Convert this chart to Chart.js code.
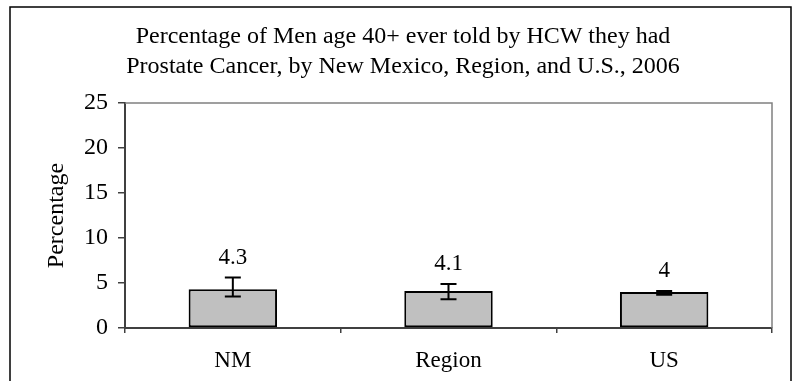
<!DOCTYPE html>
<html lang="en">
<head>
    <meta charset="UTF-8">
    <title>Prostate Cancer, Men 40+, 2006</title>
    <script src="https://cdn.jsdelivr.net/npm/chart.js"></script>
    <style>
        body { margin: 0; padding: 0; background: #ffffff; }
        #wrap { width: 796px; height: 381px; }
    </style>
</head>
<body>
    <div id="wrap"><canvas id="prostateChart"></canvas></div>

    <script>
        // Datos: porcentaje e intervalos de confianza
        const categories = ['NM', 'Region', 'US'];
        const percentages = [4.3, 4.1, 4];
        const ciLow = [3.5, 3.2, 3.7];
        const ciHigh = [5.6, 4.9, 4.1];
        const yTicks = [0, 5, 10, 15, 20, 25];

        const fontFamily = '"Liberation Serif", "Times New Roman", serif';

        // Marco exterior y borde gris del área de trazado
        const framePlugin = {
            id: 'frame',
            beforeDraw(chart) {
                const ctx = chart.ctx;
                ctx.save();
                ctx.fillStyle = '#ffffff';
                ctx.fillRect(0, 0, chart.width, chart.height);
                ctx.strokeStyle = '#000000';
                ctx.lineWidth = 1.5;
                ctx.strokeRect(10, 7, 781, chart.height + 10);
                ctx.restore();
            },
            afterDatasetsDraw(chart) {
                const a = chart.chartArea;
                const ctx = chart.ctx;
                ctx.save();
                ctx.strokeStyle = '#808080';
                ctx.lineWidth = 1.5;
                ctx.beginPath();
                ctx.moveTo(a.left, a.top);
                ctx.lineTo(a.right, a.top);
                ctx.lineTo(a.right, a.bottom);
                ctx.stroke();
                ctx.restore();
            }
        };

        // Barras de error y etiquetas de valor
        const errorBarPlugin = {
            id: 'errorBars',
            afterDatasetsDraw(chart) {
                const ctx = chart.ctx;
                const y = chart.scales.y;
                const meta = chart.getDatasetMeta(0);
                ctx.save();
                ctx.strokeStyle = '#000000';
                ctx.lineWidth = 2;
                meta.data.forEach((bar, i) => {
                    const top = y.getPixelForValue(ciHigh[i]);
                    const bottom = y.getPixelForValue(ciLow[i]);
                    const cap = 8;
                    ctx.beginPath();
                    ctx.moveTo(bar.x, top);
                    ctx.lineTo(bar.x, bottom);
                    ctx.moveTo(bar.x - cap, top);
                    ctx.lineTo(bar.x + cap, top);
                    ctx.moveTo(bar.x - cap, bottom);
                    ctx.lineTo(bar.x + cap, bottom);
                    ctx.stroke();

                    ctx.fillStyle = '#000000';
                    ctx.font = '23px ' + fontFamily;
                    ctx.textAlign = 'center';
                    ctx.textBaseline = 'middle';
                    ctx.fillText(String(percentages[i]), bar.x, top - 20);
                });
                ctx.restore();
            }
        };

        new Chart(document.getElementById('prostateChart'), {
            type: 'bar',
            data: {
                labels: categories,
                datasets: [{
                    data: percentages,
                    backgroundColor: '#c0c0c0',
                    borderColor: '#000000',
                    borderWidth: 2,
                    borderSkipped: false,
                    categoryPercentage: 1,
                    barPercentage: 0.41
                }]
            },
            options: {
                responsive: true,
                maintainAspectRatio: false,
                animation: false,
                layout: { padding: { left: 10, right: 0, top: 0, bottom: 0 } },
                plugins: {
                    legend: { display: false },
                    tooltip: { enabled: false },
                    title: {
                        display: true,
                        text: [
                            'Percentage of Men age 40+ ever told by HCW they had',
                            'Prostate Cancer, by New Mexico, Region, and U.S., 2006'
                        ],
                        color: '#000000',
                        font: { family: fontFamily, size: 24, weight: 'normal', lineHeight: 1.25 },
                        padding: { top: 22, bottom: 21 }
                    }
                },
                scales: {
                    x: {
                        afterFit: s => { s.height = 53; },
                        grid: {
                            offset: true,
                            drawOnChartArea: false,
                            drawTicks: true,
                            tickLength: 5,
                            color: '#404040',
                            lineWidth: 1.5
                        },
                        border: { color: '#404040', width: 2 },
                        ticks: {
                            color: '#000000',
                            padding: 14,
                            font: { family: fontFamily, size: 23 }
                        }
                    },
                    y: {
                        min: 0,
                        max: 25,
                        afterFit: s => { s.width = 115; },
                        afterBuildTicks: s => { s.ticks = yTicks.map(v => ({ value: v })); },
                        grid: {
                            drawOnChartArea: false,
                            drawTicks: true,
                            tickLength: 7,
                            color: '#404040',
                            lineWidth: 1.5
                        },
                        border: { color: '#404040', width: 2 },
                        ticks: {
                            color: '#000000',
                            padding: 10,
                            font: { family: fontFamily, size: 24 }
                        },
                        title: {
                            display: true,
                            text: 'Percentage',
                            color: '#000000',
                            font: { family: fontFamily, size: 24 },
                            padding: { top: 32, bottom: 0 }
                        }
                    },
                    // eje vacío a la derecha: deja el margen del marco
                    yRight: {
                        position: 'right',
                        afterFit: s => { s.width = 24; },
                        ticks: { display: false },
                        grid: { display: false },
                        border: { display: false }
                    }
                }
            },
            plugins: [framePlugin, errorBarPlugin]
        });
    </script>
</body>
</html>
